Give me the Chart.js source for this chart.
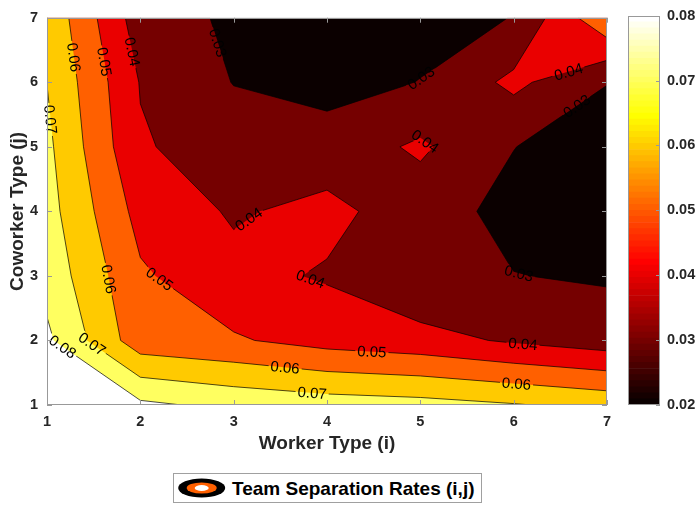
<!DOCTYPE html>
<html>
<head>
<meta charset="utf-8">
<title>Team Separation Rates</title>
<script src="https://cdn.jsdelivr.net/npm/chart.js@4.4.1/dist/chart.umd.min.js"></script>
<style>
  html, body { margin: 0; padding: 0; background: #fff; }
  #wrap { position: relative; width: 698px; height: 508px; overflow: hidden; }
  #wrap canvas { position: absolute; left: 0; top: 0; }
  #legend {
    position: absolute; left: 173px; top: 473px; width: 309px; height: 30px;
    box-sizing: border-box; border: 1px solid #a0a0a0; background: #fff;
    font: bold 19px 'Liberation Sans', Arial, sans-serif; color: #000;
  }
  #legend svg { position: absolute; left: 0; top: 0; }
  #legend span { position: absolute; left: 58px; top: 4px; white-space: nowrap; }
</style>
</head>
<body>
<div id="wrap">
  <canvas id="main" width="698" height="508"></canvas>
  <canvas id="cbar" width="698" height="508"></canvas>
  <div id="legend">
    <svg width="60" height="28">
      <ellipse cx="27.7" cy="14" rx="23.5" ry="9.5" fill="#000"/>
      <ellipse cx="27.7" cy="14" rx="15" ry="5.6" fill="#ff6000"/>
      <ellipse cx="27.7" cy="14" rx="7" ry="3" fill="#fff"/>
    </svg>
    <span>Team Separation Rates (i,j)</span>
  </div>
</div>
<script>
// Grid axes
const workerTypes = [1, 2, 3, 4, 5, 6, 7];
const coworkerTypes = [1, 2, 3, 4, 5, 6, 7];

// Separation rate for worker types i = 1..7 at each coworker type j
const ratesJ1 = [0.0950, 0.0820, 0.0775, 0.0749, 0.0735, 0.0707, 0.0671];
const ratesJ2 = [0.0820, 0.0541, 0.0511, 0.0462, 0.0435, 0.0387, 0.0348];
const ratesJ3 = [0.0765, 0.0514, 0.0428, 0.0390, 0.0310, 0.0302, 0.0290];
const ratesJ4 = [0.0738, 0.0465, 0.0389, 0.0428, 0.0346, 0.0270, 0.0220];
const ratesJ5 = [0.0722, 0.0410, 0.0351, 0.0343, 0.0416, 0.0302, 0.0240];
const ratesJ6 = [0.0699, 0.0395, 0.0297, 0.0265, 0.0302, 0.0424, 0.0303];
const ratesJ7 = [0.0677, 0.0347, 0.0284, 0.0220, 0.0270, 0.0302, 0.0589];

const contourLevels = [0.02, 0.03, 0.04, 0.05, 0.06, 0.07, 0.08];
const axisTicks = [1, 2, 3, 4, 5, 6, 7];
const colorbarTicks = [0.02, 0.03, 0.04, 0.05, 0.06, 0.07, 0.08];

// Where each inline contour label sits (worker type, coworker type)
const labelLevels = [0.06, 0.05, 0.04, 0.03, 0.07, 0.03, 0.04, 0.04, 0.04, 0.04, 0.03,
                     0.03, 0.04, 0.06, 0.05, 0.06, 0.07, 0.05, 0.06, 0.07, 0.08];
const labelSpots = [[1.26, 6.38], [1.58, 6.31], [1.88, 6.46], [2.85, 6.62], [1.02, 5.42],
                    [5.0, 6.08], [5.0, 4.98], [3.16, 3.88], [3.82, 2.94], [6.59, 6.15],
                    [6.68, 5.62], [6.05, 3.0], [6.1, 1.95], [6.03, 1.32], [4.48, 1.8],
                    [3.55, 1.56], [3.84, 1.18], [2.19, 2.92], [1.66, 2.95], [1.51, 2.0],
                    [1.19, 1.95]];

const rateGrid = [ratesJ1, ratesJ2, ratesJ3, ratesJ4, ratesJ5, ratesJ6, ratesJ7];
const colorMin = colorbarTicks[0];
const colorMax = colorbarTicks[colorbarTicks.length - 1];
const MAP_SIZE = 64;

Chart.defaults.font.family = "'Liberation Sans', Arial, Helvetica, sans-serif";
Chart.defaults.color = '#262626';

// "hot" colormap entry k (1..64)
function hotEntry(k) {
  const r = Math.min(1, k / 24);
  const g = Math.min(1, Math.max(0, (k - 24) / 24));
  const b = Math.min(1, Math.max(0, (k - 48) / 16));
  return 'rgb(' + Math.round(r * 255) + ',' + Math.round(g * 255) + ',' + Math.round(b * 255) + ')';
}
function hotColor(v) {
  const f = (v - colorMin) / (colorMax - colorMin);
  const k = Math.min(MAP_SIZE, Math.max(1, Math.floor(f * MAP_SIZE + 1e-9) + 1));
  return hotEntry(k);
}

function cellCorners(i, j) {
  return [
    { x: workerTypes[i], y: coworkerTypes[j], z: rateGrid[j][i] },
    { x: workerTypes[i + 1], y: coworkerTypes[j], z: rateGrid[j][i + 1] },
    { x: workerTypes[i + 1], y: coworkerTypes[j + 1], z: rateGrid[j + 1][i + 1] },
    { x: workerTypes[i], y: coworkerTypes[j + 1], z: rateGrid[j + 1][i] }
  ];
}
function crossing(a, b, L) {
  const t = (L - a.z) / (b.z - a.z);
  return { x: a.x + t * (b.x - a.x), y: a.y + t * (b.y - a.y) };
}

// Polygons covering the part of the grid where rate >= L (marching squares)
function regionPolys(L) {
  const polys = [];
  for (let j = 0; j < coworkerTypes.length - 1; j++) {
    for (let i = 0; i < workerTypes.length - 1; i++) {
      const c = cellCorners(i, j);
      const up = c.map(p => p.z >= L);
      const n = up.filter(Boolean).length;
      if (n === 0) continue;
      const saddle = n === 2 && up[0] === up[2];
      const centre = (c[0].z + c[1].z + c[2].z + c[3].z) / 4;
      if (saddle && centre < L) {
        for (let k = 0; k < 4; k++) {
          if (!up[k]) continue;
          polys.push([crossing(c[(k + 3) % 4], c[k], L), c[k], crossing(c[k], c[(k + 1) % 4], L)]);
        }
      } else {
        const poly = [];
        for (let k = 0; k < 4; k++) {
          const k2 = (k + 1) % 4;
          if (up[k]) poly.push(c[k]);
          if (up[k] !== up[k2]) poly.push(crossing(c[k], c[k2], L));
        }
        polys.push(poly);
      }
    }
  }
  return polys;
}

// Contour line segments at level L
function levelSegments(L) {
  const segs = [];
  for (let j = 0; j < coworkerTypes.length - 1; j++) {
    for (let i = 0; i < workerTypes.length - 1; i++) {
      const c = cellCorners(i, j);
      const up = c.map(p => p.z >= L);
      const n = up.filter(Boolean).length;
      if (n === 0 || n === 4) continue;
      const saddle = n === 2 && up[0] === up[2];
      if (!saddle) {
        const pts = [];
        for (let k = 0; k < 4; k++) {
          const k2 = (k + 1) % 4;
          if (up[k] !== up[k2]) pts.push(crossing(c[k], c[k2], L));
        }
        segs.push(pts);
      } else {
        const centre = (c[0].z + c[1].z + c[2].z + c[3].z) / 4;
        const highJoined = centre >= L;
        for (let k = 0; k < 4; k++) {
          if (up[k] === highJoined) continue;
          segs.push([crossing(c[(k + 3) % 4], c[k], L), crossing(c[k], c[(k + 1) % 4], L)]);
        }
      }
    }
  }
  return segs;
}

const contourPlugin = {
  id: 'contourFill',
  beforeDatasetsDraw(chart) {
    const { ctx, chartArea: ca, scales: { x, y } } = chart;
    const px = p => [x.getPixelForValue(p.x), y.getPixelForValue(p.y)];

    ctx.save();
    ctx.beginPath();
    ctx.rect(ca.left, ca.top, ca.right - ca.left, ca.bottom - ca.top);
    ctx.clip();

    // filled bands, lowest level first
    contourLevels.forEach(L => {
      const polys = regionPolys(L);
      if (!polys.length) return;
      ctx.beginPath();
      polys.forEach(poly => {
        poly.forEach((p, idx) => {
          const [u, v] = px(p);
          if (idx === 0) ctx.moveTo(u, v); else ctx.lineTo(u, v);
        });
        ctx.closePath();
      });
      ctx.fillStyle = hotColor(L);
      ctx.fill('nonzero');
    });

    // label placement along the lines
    ctx.font = '15px "Liberation Sans", Arial, sans-serif';
    const segCache = {};
    contourLevels.forEach(L => {
      segCache[L] = levelSegments(L).map(s => s.map(px));
    });
    const labels = labelSpots.map((spot, n) => {
      const L = labelLevels[n];
      const ax = x.getPixelForValue(spot[0]), ay = y.getPixelForValue(spot[1]);
      let best = null;
      segCache[L].forEach(([a, b]) => {
        const dx = b[0] - a[0], dy = b[1] - a[1];
        const len2 = dx * dx + dy * dy || 1;
        let t = ((ax - a[0]) * dx + (ay - a[1]) * dy) / len2;
        t = Math.max(0, Math.min(1, t));
        const qx = a[0] + t * dx, qy = a[1] + t * dy;
        const d = (qx - ax) ** 2 + (qy - ay) ** 2;
        if (!best || d < best.d) best = { d, qx, qy, ang: Math.atan2(dy, dx) };
      });
      if (!best) return null;
      let ang = best.ang;
      if (ang > Math.PI / 2) ang -= Math.PI;
      if (ang < -Math.PI / 2) ang += Math.PI;
      const text = L.toFixed(2);
      return { text, cx: best.qx, cy: best.qy, ang, w: ctx.measureText(text).width + 4, h: 13 };
    }).filter(Boolean);

    // contour lines, broken where labels sit
    ctx.beginPath();
    ctx.rect(ca.left, ca.top, ca.right - ca.left, ca.bottom - ca.top);
    labels.forEach(lb => {
      const cs = Math.cos(lb.ang), sn = Math.sin(lb.ang);
      const hw = lb.w / 2, hh = lb.h / 2;
      [[-hw, -hh], [hw, -hh], [hw, hh], [-hw, hh]].forEach(([u, v], idx) => {
        const X = lb.cx + u * cs - v * sn, Y = lb.cy + u * sn + v * cs;
        if (idx === 0) ctx.moveTo(X, Y); else ctx.lineTo(X, Y);
      });
      ctx.closePath();
    });
    ctx.clip('evenodd');
    ctx.beginPath();
    contourLevels.forEach(L => {
      segCache[L].forEach(([a, b]) => { ctx.moveTo(a[0], a[1]); ctx.lineTo(b[0], b[1]); });
    });
    ctx.strokeStyle = '#000';
    ctx.lineWidth = 0.7;
    ctx.lineJoin = 'round';
    ctx.stroke();
    ctx.restore();

    ctx.save();
    ctx.fillStyle = '#000';
    ctx.font = '15px "Liberation Sans", Arial, sans-serif';
    ctx.textAlign = 'center';
    ctx.textBaseline = 'middle';
    labels.forEach(lb => {
      ctx.save();
      ctx.translate(lb.cx, lb.cy);
      ctx.rotate(lb.ang);
      ctx.fillText(lb.text, 0, 1);
      ctx.restore();
    });
    ctx.restore();
  },
  afterDraw(chart) {
    const { ctx, chartArea: ca, scales: { x, y } } = chart;
    ctx.save();
    ctx.strokeStyle = '#999';
    ctx.lineWidth = 1;
    ctx.beginPath();
    axisTicks.forEach(v => {
      const X = Math.round(x.getPixelForValue(v)) + 0.5;
      ctx.moveTo(X, ca.bottom); ctx.lineTo(X, ca.bottom - 5);
      ctx.moveTo(X, ca.top); ctx.lineTo(X, ca.top + 5);
      const Y = Math.round(y.getPixelForValue(v)) + 0.5;
      ctx.moveTo(ca.left, Y); ctx.lineTo(ca.left + 5, Y);
      ctx.moveTo(ca.right, Y); ctx.lineTo(ca.right - 5, Y);
    });
    ctx.stroke();
    ctx.strokeRect(Math.round(ca.left) + 0.5, Math.round(ca.top) + 0.5,
                   Math.round(ca.right - ca.left) - 1, Math.round(ca.bottom - ca.top) - 1);
    ctx.restore();
  }
};

new Chart(document.getElementById('main'), {
  type: 'scatter',
  data: { datasets: [{ data: [], pointRadius: 0 }] },
  options: {
    responsive: false,
    animation: false,
    devicePixelRatio: 1,
    layout: { padding: { left: 0, top: 15, right: 91, bottom: 49 } },
    plugins: { legend: { display: false }, tooltip: { enabled: false } },
    scales: {
      x: {
        type: 'linear', min: 1, max: 7,
        afterBuildTicks: s => { s.ticks = axisTicks.map(v => ({ value: v })); },
        afterFit: s => { s.height = 54; },
        grid: { display: false, drawTicks: false },
        border: { display: false },
        ticks: { padding: 8, color: '#262626', font: { size: 14.5, weight: 'bold' }, maxRotation: 0, autoSkip: false },
        title: { display: true, text: 'Worker Type (i)', color: '#262626',
                 font: { size: 19, weight: 'bold' }, padding: { top: 0, bottom: 4 } }
      },
      y: {
        type: 'linear', min: 1, max: 7,
        afterBuildTicks: s => { s.ticks = axisTicks.map(v => ({ value: v })); },
        afterFit: s => { s.width = 47; },
        grid: { display: false, drawTicks: false },
        border: { display: false },
        ticks: { padding: 9, color: '#262626', font: { size: 14.5, weight: 'bold' }, autoSkip: false },
        title: { display: true, text: 'Coworker Type (j)', color: '#262626',
                 font: { size: 19, weight: 'bold' }, padding: { top: 6, bottom: 0 } }
      }
    }
  },
  plugins: [contourPlugin]
});

// Colorbar: one floating bar per colormap entry
const colorbarSets = [];
for (let k = 1; k <= MAP_SIZE; k++) {
  const lo = colorMin + (k - 1) * (colorMax - colorMin) / MAP_SIZE;
  const hi = colorMin + k * (colorMax - colorMin) / MAP_SIZE;
  colorbarSets.push({
    data: [[lo, hi]], backgroundColor: hotEntry(k), borderWidth: 0,
    grouped: false, barPercentage: 1, categoryPercentage: 1
  });
}

const colorbarFrame = {
  id: 'colorbarFrame',
  afterDraw(chart) {
    const { ctx, chartArea: ca, scales: { y } } = chart;
    ctx.save();
    ctx.strokeStyle = '#999';
    ctx.lineWidth = 1;
    ctx.beginPath();
    colorbarTicks.forEach(v => {
      const Y = Math.round(y.getPixelForValue(v)) + 0.5;
      ctx.moveTo(ca.right, Y); ctx.lineTo(ca.right - 4, Y);
    });
    ctx.stroke();
    ctx.strokeRect(Math.round(ca.left) + 0.5, Math.round(ca.top) + 0.5,
                   Math.round(ca.right - ca.left) - 1, Math.round(ca.bottom - ca.top) - 1);
    ctx.restore();
  }
};

new Chart(document.getElementById('cbar'), {
  type: 'bar',
  data: { labels: [''], datasets: colorbarSets },
  options: {
    responsive: false,
    animation: false,
    devicePixelRatio: 1,
    layout: { padding: { left: 628, top: 15, right: 0, bottom: 103 } },
    plugins: { legend: { display: false }, tooltip: { enabled: false } },
    scales: {
      x: { display: false },
      y: {
        position: 'right', min: colorMin, max: colorMax,
        afterBuildTicks: s => { s.ticks = colorbarTicks.map(v => ({ value: v })); },
        afterFit: s => { s.width = 38; },
        grid: { display: false, drawTicks: false },
        border: { display: false },
        ticks: { padding: 7, color: '#262626', font: { size: 14.5, weight: 'bold' },
                 callback: v => Number(v).toFixed(2) }
      }
    }
  },
  plugins: [colorbarFrame]
});
</script>
</body>
</html>
